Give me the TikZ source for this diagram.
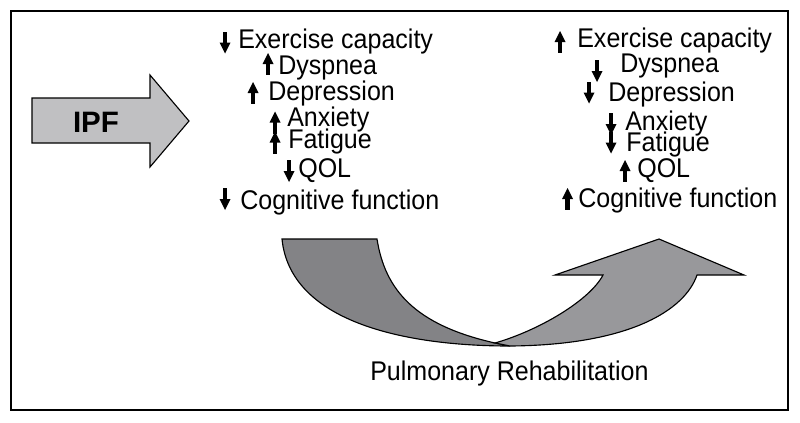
\documentclass[tikz,border=0pt]{standalone}
\usepackage{fontspec}
\setmainfont{Liberation Sans}
\definecolor{ipfgray}{RGB}{192,192,194}
\definecolor{bandgray}{RGB}{131,131,134}
\definecolor{arrgray}{RGB}{152,152,155}
\begin{document}
\begin{tikzpicture}[x=0.025cm, y=-0.025cm]
\tikzset{item/.style={anchor=base west, inner sep=0pt, font=\fontsize{17.8}{20}\selectfont, yscale=1.08, transform shape},
  uparr/.pic={\fill (-2.1,11) rectangle (2.1,-1); \fill (-5.5,0) -- (5.5,0) -- (0,-11) -- cycle;},
  dnarr/.pic={\fill (-2.1,-11) rectangle (2.1,1); \fill (-5.5,0) -- (5.5,0) -- (0,11) -- cycle;}}
\useasboundingbox (0,0) rectangle (800,422);
\draw[line width=1.2pt] (11,11) rectangle (788,410);
\draw[fill=ipfgray, line width=0.8pt] (32,98) -- (150,98) -- (150,75) -- (189,121) -- (150,167) -- (150,143) -- (32,143) -- cycle;
\node[font=\fontsize{21}{24}\selectfont\bfseries] (ipf) at (96,122) {IPF};
\node[item] (ex1) at (238,48) {Exercise capacity};
\node[item] (dy1) at (278,74) {Dyspnea};
\node[item] (de1) at (268,100) {Depression};
\node[item] (an1) at (287,126) {Anxiety};
\node[item] (fa1) at (288,148) {Fatigue};
\node[item] (qo1) at (298,177) {QOL};
\node[item] (co1) at (240,209) {Cognitive function};
\pic at (225,42.5) {dnarr};
\pic at (268,64) {uparr};
\pic at (253,93) {uparr};
\pic at (275,122.5) {uparr};
\pic at (275,142.5) {uparr};
\pic at (289,171) {dnarr};
\pic at (225,199) {dnarr};
\node[item] (ex2) at (577,47) {Exercise capacity};
\node[item] (dy2) at (620,72) {Dyspnea};
\node[item] (de2) at (608,101) {Depression};
\node[item] (an2) at (625,130) {Anxiety};
\node[item] (fa2) at (626,151) {Fatigue};
\node[item] (qo2) at (637,177) {QOL};
\node[item] (co2) at (578,207) {Cognitive function};
\pic at (560,42) {uparr};
\pic at (597,71) {dnarr};
\pic at (589,92.5) {dnarr};
\pic at (611,124) {dnarr};
\pic at (611,142.5) {dnarr};
\pic at (625,171) {uparr};
\pic at (567.5,199) {uparr};
\draw[fill=bandgray, line width=0.8pt] (282,239) -- (377,239) .. controls (385,290) and (415,325) .. (495,343)
  -- (510,346) .. controls (400,346) and (290,320) .. (282,239) -- cycle;
\draw[fill=arrgray, line width=0.8pt] (495,343) .. controls (540,330) and (590,300) .. (603,275) -- (555,275) -- (659,239)
  -- (744,275) -- (697,275) .. controls (685,310) and (630,345) .. (510,346) -- cycle;
\node[item] (pr) at (370,380) {Pulmonary Rehabilitation};
\end{tikzpicture}
\end{document}
